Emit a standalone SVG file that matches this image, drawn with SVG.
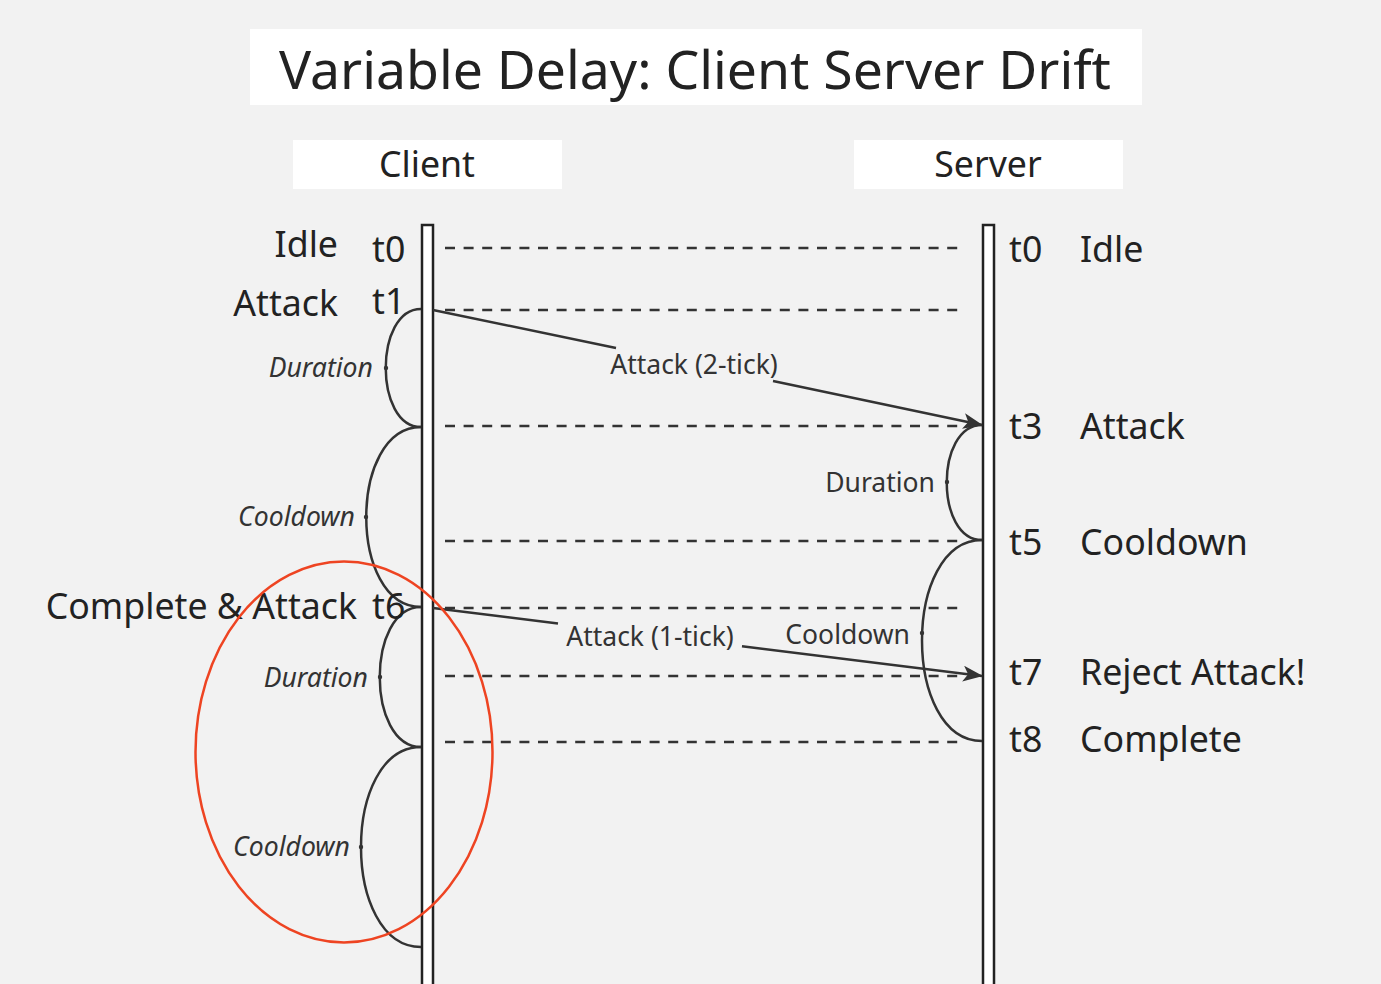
<svg xmlns="http://www.w3.org/2000/svg" width="1381" height="984" viewBox="0 0 1381 984">
<style>
text{font-family:"Noto Sans","Open Sans","DejaVu Sans",sans-serif;fill:#222}
.big{font-size:35.7px}
.title{font-size:53.5px}
.it{font-size:26.6px;font-style:italic;fill:#333}
.sm{font-size:26.5px;fill:#333}
.dash{stroke:#333;stroke-width:2.5;stroke-dasharray:10 8.6;fill:none}
.brace{stroke:#333;stroke-width:2.5;fill:none}
.msg{stroke:#333;stroke-width:2.5;fill:none}
.life{fill:#fff;stroke:#222;stroke-width:2.5}
.box{fill:#fff}
</style>
<defs>
<marker id="ah" viewBox="0 0 20 16" refX="19" refY="8" markerWidth="20" markerHeight="16" markerUnits="userSpaceOnUse" orient="auto">
<path d="M0,0 L20,8 L0,16 L5,8 z" fill="#333"/>
</marker>
</defs>
<rect width="1381" height="984" fill="#f2f2f2"/>
<g id="title">
<rect class="box" x="250" y="29" width="892" height="76"/>
<text class="title" x="695" y="89" text-anchor="middle">Variable Delay: Client Server Drift</text>
</g>
<g id="client">
<rect class="box" x="293" y="140" width="269" height="49"/>
<text class="big" x="427" y="177" text-anchor="middle">Client</text>
<rect class="life" x="422" y="225" width="11" height="770"/>
</g>
<g id="server">
<rect class="box" x="854" y="140" width="269" height="49"/>
<text class="big" x="988" y="177" text-anchor="middle">Server</text>
<rect class="life" x="983" y="225" width="11" height="770"/>
</g>
<g id="connectors">
<line class="dash" x1="445" y1="248" x2="964" y2="248"/>
<line class="dash" x1="445" y1="310" x2="964" y2="310"/>
<line class="dash" x1="445" y1="426" x2="964" y2="426"/>
<line class="dash" x1="445" y1="541" x2="964" y2="541"/>
<line class="dash" x1="445" y1="608" x2="964" y2="608"/>
<line class="dash" x1="445" y1="676" x2="964" y2="676"/>
<line class="dash" x1="445" y1="742" x2="964" y2="742"/>
<path class="msg" d="M433,310 L616,348"/>
<path class="msg" d="M773,381 L982,425" marker-end="url(#ah)"/>
<path class="msg" d="M433,608 L558,623.5"/>
<path class="msg" d="M742,646.3 L982,676" marker-end="url(#ah)"/>
</g>
<g id="client-braces">
<path class="brace" d="M421,309 C374,309 374,427 421,427"/>
<circle cx="386" cy="368" r="2.2" fill="#333"/>
<path class="brace" d="M421,427 C348,427 348,607 421,607"/>
<circle cx="366" cy="517" r="2.2" fill="#333"/>
<path class="brace" d="M421,607 C366,607 366,747 421,747"/>
<circle cx="380" cy="677" r="2.2" fill="#333"/>
<path class="brace" d="M421,747 C341,747 341,947 421,947"/>
<circle cx="361" cy="847" r="2.2" fill="#333"/>
</g>
<g id="server-braces">
<path class="brace" d="M982,425 C935,425 935,540 982,540"/>
<circle cx="947" cy="482" r="2.2" fill="#333"/>
<path class="brace" d="M982,540 C902,540 902,741 982,741"/>
<circle cx="922" cy="633" r="2.2" fill="#333"/>
</g>
<g id="client-labels">
<text class="big" x="338" y="257" text-anchor="end">Idle</text>
<text class="big" x="372" y="262">t0</text>
<text class="big" x="338" y="316" text-anchor="end">Attack</text>
<text class="big" x="372" y="314">t1</text>
<text class="big" x="357" y="619" text-anchor="end">Complete &amp; Attack</text>
<text class="big" x="372" y="619">t6</text>
<text class="it" x="373" y="377" text-anchor="end">Duration</text>
<text class="it" x="355" y="526" text-anchor="end">Cooldown</text>
<text class="it" x="368" y="687" text-anchor="end">Duration</text>
<text class="it" x="350" y="856" text-anchor="end">Cooldown</text>
</g>
<g id="server-labels">
<text class="big" x="1009" y="262">t0</text>
<text class="big" x="1080" y="262">Idle</text>
<text class="big" x="1009" y="439">t3</text>
<text class="big" x="1080" y="439">Attack</text>
<text class="big" x="1009" y="555">t5</text>
<text class="big" x="1080" y="555">Cooldown</text>
<text class="big" x="1009" y="685">t7</text>
<text class="big" x="1080" y="685">Reject Attack!</text>
<text class="big" x="1009" y="752">t8</text>
<text class="big" x="1080" y="752">Complete</text>
<text class="sm" x="935" y="492" text-anchor="end">Duration</text>
<text class="sm" x="910" y="644" text-anchor="end">Cooldown</text>
</g>
<g id="message-labels">
<text class="sm" x="694" y="374" text-anchor="middle">Attack (2-tick)</text>
<text class="sm" x="650" y="646" text-anchor="middle">Attack (1-tick)</text>
</g>
<ellipse id="highlight" cx="344" cy="752" rx="148.5" ry="190.5" fill="none" stroke="#ee4422" stroke-width="2.5"/>
</svg>
